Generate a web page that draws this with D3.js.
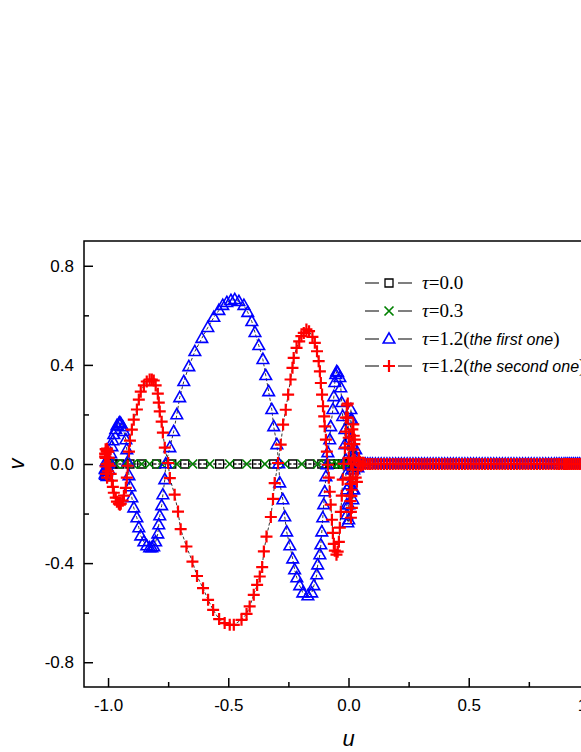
<!DOCTYPE html>
<html>
<head>
<meta charset="utf-8">
<script src="https://cdn.jsdelivr.net/npm/d3@7"></script>
<style>
    body { margin: 0; background: #fff; }
    svg { display: block; }
    .tick text { font-family: "Liberation Sans", Arial, sans-serif; font-size: 17px; fill: #000; }
    .domain { display: none; }
    .tick line { stroke: #000; stroke-width: 1.5; }
</style>
</head>
<body>
<div id="chart"></div>
<script>
/*
 * Axis ticks.
 */
var uTicks = [-1.0, -0.5, 0.0, 0.5, 1.0];
var uMinorTicks = [-0.75, -0.25, 0.25, 0.75];
var vTicks = [-0.8, -0.4, 0.0, 0.4, 0.8];
var vMinorTicks = [-0.6, -0.2, 0.2, 0.6];
/*
 * Legend labels: tau value and optional italic remark.
 */
var tauValues = ['0.0', '0.3', '1.2', '1.2'];
var tauNotes = ['', '', 'the first one', 'the second one'];
/*
 * tau = 0.0 and tau = 0.3 stay on v = 0, only u is listed.
 */
var squareU = [-1.000, -0.980, -0.951, -0.909, -0.860, -0.798, -0.735, -0.681, -0.606, -0.536,
    -0.461, -0.382, -0.311, -0.232, -0.161, -0.111, -0.074, -0.045, -0.024, -0.011, -0.003];
var crossU = [-0.997, -0.968, -0.930, -0.897, -0.860, -0.827, -0.777, -0.714, -0.648, -0.577,
    -0.494, -0.423, -0.348, -0.265, -0.194, -0.128, -0.099, -0.069, -0.049, -0.032, -0.020,
    -0.011, -0.003];
/*
 * tau = 1.2, first solution, [u, v].
 */
var firstOne = [
    [-1.000, 0.001], [-1.006, -0.030], [-1.010, -0.045], [-1.012, -0.020], [-1.008, 0.010],
    [-1.004, -0.050], [-1.010, -0.023], [-1.012, -0.040], [-1.005, -0.047], [-0.997, -0.023],
    [-0.993, 0.009], [-0.989, 0.042], [-0.984, 0.070], [-0.980, 0.094], [-0.976, 0.119],
    [-0.968, 0.139], [-0.963, 0.155], [-0.955, 0.163], [-0.951, 0.167], [-0.947, 0.163],
    [-0.939, 0.151], [-0.934, 0.131], [-0.926, 0.098], [-0.922, 0.058], [-0.918, 0.009],
    [-0.913, -0.047], [-0.909, -0.092], [-0.901, -0.136], [-0.893, -0.177], [-0.880, -0.217],
    [-0.872, -0.257], [-0.864, -0.290], [-0.851, -0.314], [-0.839, -0.330], [-0.827, -0.338],
    [-0.818, -0.338], [-0.810, -0.334], [-0.802, -0.314], [-0.793, -0.282], [-0.789, -0.245],
    [-0.785, -0.209], [-0.777, -0.168], [-0.772, -0.124], [-0.764, -0.063], [-0.760, 0.001],
    [-0.743, 0.066], [-0.727, 0.131], [-0.714, 0.199], [-0.702, 0.268], [-0.685, 0.333],
    [-0.664, 0.393], [-0.639, 0.454], [-0.610, 0.507], [-0.585, 0.551], [-0.560, 0.592],
    [-0.539, 0.620], [-0.523, 0.640], [-0.506, 0.652], [-0.489, 0.660], [-0.473, 0.664],
    [-0.456, 0.656], [-0.435, 0.640], [-0.419, 0.612], [-0.402, 0.575], [-0.389, 0.531],
    [-0.373, 0.478], [-0.356, 0.422], [-0.344, 0.357], [-0.332, 0.292], [-0.319, 0.220],
    [-0.311, 0.151], [-0.298, 0.078], [-0.290, 0.001], [-0.286, -0.076], [-0.273, -0.144],
    [-0.265, -0.213], [-0.257, -0.274], [-0.244, -0.330], [-0.232, -0.383], [-0.224, -0.427],
    [-0.215, -0.459], [-0.203, -0.491], [-0.190, -0.520], [-0.169, -0.532], [-0.153, -0.520],
    [-0.144, -0.491], [-0.132, -0.447], [-0.128, -0.407], [-0.119, -0.366], [-0.115, -0.326],
    [-0.111, -0.274], [-0.107, -0.217], [-0.103, -0.164], [-0.099, -0.112], [-0.094, -0.051],
    [-0.090, -0.003], [-0.086, 0.046], [-0.078, 0.098], [-0.074, 0.151], [-0.065, 0.220],
    [-0.061, 0.272], [-0.057, 0.329], [-0.053, 0.361], [-0.049, 0.373], [-0.045, 0.369],
    [-0.036, 0.349], [-0.032, 0.308], [-0.028, 0.248], [-0.024, 0.192], [-0.015, 0.139],
    [-0.015, 0.078], [-0.011, 0.017], [-0.011, -0.043], [-0.007, -0.104], [-0.007, -0.164],
    [-0.007, -0.205], [-0.003, -0.237], [0.001, -0.225], [0.001, -0.164], [0.005, -0.084],
    [0.005, 0.001], [0.005, 0.098], [0.010, 0.179], [0.010, 0.220], [0.014, 0.179],
    [0.014, 0.078], [0.014, -0.023], [0.018, -0.104], [0.018, -0.144], [0.022, -0.104],
    [0.022, -0.023], [0.026, 0.038], [0.030, 0.058], [0.035, 0.017], [0.039, -0.015],
    [0.043, 0.009]
];
/*
 * tau = 1.2, second solution, [u, v].
 */
var secondOne = [
    [-1.000, 0.001], [-1.006, 0.055], [-1.010, 0.060], [-1.012, 0.030], [-1.010, -0.010],
    [-1.008, -0.040], [-1.004, -0.055], [-1.000, -0.030], [-1.006, 0.000], [-1.010, 0.040],
    [-1.004, 0.062], [-0.999, 0.050], [-1.010, 0.025], [-1.012, 0.042], [-1.005, 0.050],
    [-0.997, 0.025],
    [-0.993, -0.007], [-0.989, -0.040], [-0.984, -0.067], [-0.980, -0.092], [-0.976, -0.116],
    [-0.968, -0.136], [-0.963, -0.152], [-0.955, -0.160], [-0.951, -0.164], [-0.947, -0.160],
    [-0.939, -0.148], [-0.934, -0.128], [-0.926, -0.096], [-0.922, -0.055], [-0.918, -0.007],
    [-0.913, 0.050], [-0.909, 0.094], [-0.901, 0.139], [-0.893, 0.179], [-0.880, 0.220],
    [-0.872, 0.260], [-0.864, 0.292], [-0.851, 0.317], [-0.839, 0.333], [-0.827, 0.341],
    [-0.818, 0.341], [-0.810, 0.337], [-0.802, 0.317], [-0.793, 0.284], [-0.789, 0.248],
    [-0.785, 0.212], [-0.777, 0.171], [-0.772, 0.127], [-0.764, 0.066], [-0.750, 0.004],
    [-0.743, -0.057], [-0.723, -0.124], [-0.709, -0.192], [-0.698, -0.263], [-0.674, -0.333],
    [-0.649, -0.394], [-0.630, -0.452], [-0.605, -0.501], [-0.584, -0.548], [-0.563, -0.589],
    [-0.538, -0.626], [-0.515, -0.642], [-0.494, -0.649], [-0.477, -0.649], [-0.445, -0.629],
    [-0.424, -0.605], [-0.411, -0.575], [-0.394, -0.528], [-0.380, -0.488], [-0.369, -0.454],
    [-0.359, -0.416], [-0.352, -0.353], [-0.341, -0.293], [-0.323, -0.214], [-0.314, -0.141],
    [-0.307, -0.077], [-0.293, 0.004], [-0.282, 0.078], [-0.272, 0.159], [-0.261, 0.219],
    [-0.251, 0.280], [-0.241, 0.341], [-0.233, 0.388], [-0.228, 0.428], [-0.216, 0.469],
    [-0.205, 0.495], [-0.196, 0.516], [-0.186, 0.529], [-0.175, 0.543], [-0.164, 0.536],
    [-0.150, 0.513], [-0.140, 0.489], [-0.131, 0.455], [-0.124, 0.415], [-0.119, 0.374],
    [-0.115, 0.327], [-0.110, 0.280], [-0.106, 0.233], [-0.101, 0.192], [-0.099, 0.152],
    [-0.094, 0.098], [-0.090, 0.050], [-0.086, -0.003], [-0.082, -0.055], [-0.078, -0.112],
    [-0.074, -0.164], [-0.069, -0.225], [-0.065, -0.278], [-0.061, -0.322], [-0.057, -0.350],
    [-0.050, -0.366], [-0.045, -0.354], [-0.040, -0.314], [-0.036, -0.257], [-0.032, -0.193],
    [-0.028, -0.128], [-0.024, -0.063], [-0.020, 0.001], [-0.015, 0.066], [-0.011, 0.131],
    [-0.011, 0.187], [-0.007, 0.236], [-0.003, 0.244], [-0.003, 0.187], [0.001, 0.106],
    [0.001, 0.025], [0.005, -0.055], [0.005, -0.128], [0.010, -0.193], [0.010, -0.217],
    [0.014, -0.177], [0.014, -0.104], [0.018, -0.023], [0.018, 0.058], [0.022, 0.114],
    [0.020, 0.160], [0.016, 0.140], [0.012, 0.080], [0.010, 0.000], [0.008, -0.080],
    [0.008, -0.150], [0.012, -0.130], [0.016, -0.060], [0.020, 0.020], [0.024, 0.080],
    [0.026, 0.098], [0.026, 0.017], [0.030, -0.055], [0.035, -0.072], [0.039, -0.023],
    [0.043, 0.025], [0.047, 0.009], [0.051, -0.007]
];
/*
 * Both tau = 1.2 solutions settle on v = 0 for u > 0: u of those points.
 */
var tailU = [0.060, 0.070, 0.080, 0.090, 0.100, 0.112, 0.124, 0.136, 0.148, 0.160, 0.172,
    0.184, 0.196, 0.208, 0.220, 0.232, 0.244, 0.256, 0.268, 0.280, 0.292, 0.304, 0.316, 0.328,
    0.340, 0.352, 0.364, 0.376, 0.388, 0.400, 0.412, 0.424, 0.436, 0.448, 0.460, 0.472, 0.484,
    0.496, 0.508, 0.520, 0.532, 0.544, 0.556, 0.568, 0.580, 0.592, 0.604, 0.616, 0.628, 0.640,
    0.652, 0.664, 0.676, 0.688, 0.700, 0.712, 0.724, 0.736, 0.748, 0.760, 0.772, 0.784, 0.796,
    0.808, 0.820, 0.832, 0.844, 0.856, 0.866, 0.876, 0.886, 0.896, 0.904, 0.912, 0.920, 0.928,
    0.936, 0.944, 0.952, 0.960, 0.968, 0.976, 0.984, 0.992, 1.000];


var width = 581, height = 752;
var margin = {left: 84, top: 241, right: 613, bottom: 687};

var x = d3.scaleLinear().domain([-1.1, 1.1]).range([margin.left, margin.right]);
var y = d3.scaleLinear().domain([-0.9, 0.9]).range([margin.bottom, margin.top]);

/*
 * Marker shapes, centred on the point.
 */
var markers = {
    square:   {d: 'M-4,-4h8v8h-8z', stroke: '#000', width: 1.3},
    cross:    {d: 'M-4.5,-4.5L4.5,4.5M-4.5,4.5L4.5,-4.5', stroke: '#008000', width: 1.7},
    triangle: {d: 'M0,-6.2L5.8,4L-5.8,4Z', stroke: '#0000ff', width: 1.6},
    plus:     {d: 'M-6,0H6M0,-6V6', stroke: '#ff0000', width: 2.2}
};

var series = [
    {marker: markers.square, points: squareU.map(u => [u, 0])},
    {marker: markers.cross, points: crossU.map(u => [u, 0])},
    {marker: markers.triangle, points: firstOne.concat(tailU.map(u => [u, 0]))},
    {marker: markers.plus, points: secondOne.concat(tailU.map(u => [u, 0]))}
];

var svg = d3.select('#chart').append('svg')
    .attr('width', width)
    .attr('height', height);

/*
 * Axes with inward ticks.
 */
var fmt = d => d.toFixed(1);

svg.append('g')
    .attr('transform', 'translate(0,' + margin.bottom + ')')
    .call(d3.axisBottom(x).tickValues(uTicks).tickFormat(fmt).tickSizeInner(-9).tickSizeOuter(0).tickPadding(12));
svg.append('g')
    .attr('transform', 'translate(0,' + margin.bottom + ')')
    .call(d3.axisBottom(x).tickValues(uMinorTicks).tickFormat('').tickSizeInner(-5).tickSizeOuter(0));
svg.append('g')
    .attr('transform', 'translate(' + margin.left + ',0)')
    .call(d3.axisLeft(y).tickValues(vTicks).tickFormat(fmt).tickSizeInner(-9).tickSizeOuter(0).tickPadding(10));
svg.append('g')
    .attr('transform', 'translate(' + margin.left + ',0)')
    .call(d3.axisLeft(y).tickValues(vMinorTicks).tickFormat('').tickSizeInner(-5).tickSizeOuter(0));

/*
 * Plot frame.
 */
svg.append('rect')
    .attr('x', margin.left)
    .attr('y', margin.top)
    .attr('width', margin.right - margin.left)
    .attr('height', margin.bottom - margin.top)
    .attr('fill', 'none')
    .attr('stroke', '#000')
    .attr('stroke-width', 1.5);

/*
 * Axis titles.
 */
svg.append('text')
    .attr('x', x(0))
    .attr('y', 746)
    .attr('text-anchor', 'middle')
    .style('font', 'italic 22px "Liberation Sans", Arial, sans-serif')
    .text('u');
svg.append('text')
    .attr('transform', 'translate(24,' + y(0) + ') rotate(-90)')
    .attr('text-anchor', 'middle')
    .style('font', 'italic 22px "Liberation Sans", Arial, sans-serif')
    .text('v');

/*
 * Series: dashed black connecting line, then markers.
 */
var line = d3.line().x(d => x(d[0])).y(d => y(d[1]));

series.forEach(function(s) {
    svg.append('path')
        .attr('d', line(s.points))
        .attr('fill', 'none')
        .attr('stroke', '#000')
        .attr('stroke-width', 0.8)
        .attr('stroke-dasharray', '3,2');

    svg.append('g').selectAll('path')
        .data(s.points)
        .join('path')
        .attr('transform', d => 'translate(' + x(d[0]) + ',' + y(d[1]) + ')')
        .attr('d', s.marker.d)
        .attr('fill', 'none')
        .attr('stroke', s.marker.stroke)
        .attr('stroke-width', s.marker.width);
});

/*
 * Legend.
 */
var legend = svg.append('g');
var rowY = [283, 311, 339, 366];

series.forEach(function(s, i) {
    var row = legend.append('g').attr('transform', 'translate(0,' + rowY[i] + ')');

    row.append('path')
        .attr('d', 'M365,0H379M398,0H412')
        .attr('stroke', '#000')
        .attr('stroke-width', 1.2);
    row.append('path')
        .attr('transform', 'translate(389,0)')
        .attr('d', s.marker.d)
        .attr('fill', 'none')
        .attr('stroke', s.marker.stroke)
        .attr('stroke-width', s.marker.width);

    var text = row.append('text')
        .attr('x', 422)
        .attr('y', 6)
        .style('font-family', '"Liberation Serif", "Times New Roman", serif')
        .style('font-size', '19px');
    text.append('tspan').style('font-style', 'italic').text('\u03c4');
    text.append('tspan').text('=' + tauValues[i]);
    if (tauNotes[i]) {
        text.append('tspan').text('(');
        text.append('tspan')
            .style('font-family', '"Liberation Sans", Arial, sans-serif')
            .style('font-style', 'italic')
            .style('font-size', '16px')
            .text(tauNotes[i]);
        text.append('tspan').text(')');
    }
});
</script>
</body>
</html>
